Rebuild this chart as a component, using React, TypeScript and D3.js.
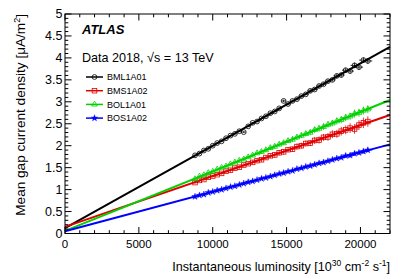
import React from 'react';
import * as d3 from 'd3';

// Instantaneous luminosity bins [10^30 cm^-2 s^-1]
const lumi = [
  8800, 9100, 9400, 9700, 10000, 10300, 10600, 10900, 11200, 11500,
  11800, 12100, 12400, 12700, 13000, 13300, 13600, 13900, 14200, 14500,
  14800, 15100, 15400, 15700, 16000, 16300, 16600, 16900, 17200, 17500,
  17800, 18100, 18400, 18700, 19000, 19300, 19600, 19900, 20200, 20500,
];
const lumiErr = [
  120, 120, 120, 120, 120, 120, 130, 130, 130, 130,
  130, 140, 140, 140, 140, 150, 150, 150, 160, 160,
  160, 170, 170, 180, 180, 190, 190, 200, 200, 210,
  220, 220, 230, 240, 250, 260, 270, 280, 290, 300,
];

// Mean gap current density [uA/m2]
const bml1a01 = [
  1.78, 1.82, 1.89, 1.93, 2.00, 2.06, 2.10, 2.17, 2.23, 2.27,
  2.33, 2.31, 2.44, 2.52, 2.55, 2.62, 2.67, 2.74, 2.78, 2.85,
  3.02, 2.95, 3.02, 3.06, 3.13, 3.17, 3.25, 3.28, 3.36, 3.40,
  3.47, 3.50, 3.59, 3.61, 3.72, 3.70, 3.83, 3.79, 3.95, 3.93,
];
const bms1a02 = [
  1.16, 1.21, 1.23, 1.28, 1.31, 1.34, 1.37, 1.42, 1.44, 1.49,
  1.51, 1.56, 1.59, 1.62, 1.66, 1.68, 1.73, 1.77, 1.79, 1.84,
  1.86, 1.91, 1.92, 1.98, 2.00, 2.05, 2.06, 2.12, 2.13, 2.19,
  2.20, 2.26, 2.27, 2.33, 2.36, 2.40, 2.38, 2.47, 2.52, 2.55,
];
const bol1a01 = [
  1.24, 1.30, 1.33, 1.38, 1.41, 1.46, 1.50, 1.53, 1.58, 1.62,
  1.66, 1.69, 1.74, 1.78, 1.83, 1.86, 1.90, 1.95, 1.98, 2.03,
  2.06, 2.11, 2.14, 2.19, 2.23, 2.27, 2.30, 2.36, 2.39, 2.43,
  2.48, 2.51, 2.56, 2.59, 2.64, 2.67, 2.73, 2.75, 2.80, 2.83,
];
const bos1a02 = [
  0.84, 0.87, 0.89, 0.93, 0.95, 0.98, 1.00, 1.03, 1.06, 1.08,
  1.11, 1.14, 1.17, 1.19, 1.22, 1.25, 1.27, 1.30, 1.33, 1.36,
  1.38, 1.41, 1.43, 1.47, 1.49, 1.52, 1.54, 1.57, 1.60, 1.62,
  1.65, 1.68, 1.71, 1.73, 1.77, 1.78, 1.82, 1.84, 1.87, 1.90,
];

const errBml = [
  0.02, 0.02, 0.02, 0.02, 0.02, 0.02, 0.02, 0.02, 0.02, 0.02,
  0.02, 0.02, 0.02, 0.02, 0.02, 0.03, 0.03, 0.03, 0.03, 0.03,
  0.03, 0.03, 0.03, 0.03, 0.03, 0.03, 0.04, 0.04, 0.04, 0.04,
  0.04, 0.04, 0.05, 0.05, 0.05, 0.05, 0.06, 0.06, 0.06, 0.06,
];
const errBms = [
  0.03, 0.03, 0.03, 0.03, 0.03, 0.03, 0.03, 0.04, 0.04, 0.04,
  0.04, 0.04, 0.04, 0.05, 0.05, 0.05, 0.05, 0.05, 0.06, 0.06,
  0.06, 0.06, 0.06, 0.07, 0.07, 0.07, 0.07, 0.08, 0.08, 0.08,
  0.09, 0.09, 0.09, 0.10, 0.10, 0.11, 0.11, 0.11, 0.12, 0.12,
];
const errBol = [
  0.03, 0.03, 0.03, 0.03, 0.03, 0.03, 0.03, 0.03, 0.03, 0.04,
  0.04, 0.04, 0.04, 0.04, 0.04, 0.04, 0.05, 0.05, 0.05, 0.05,
  0.05, 0.05, 0.06, 0.06, 0.06, 0.06, 0.06, 0.07, 0.07, 0.07,
  0.07, 0.07, 0.08, 0.08, 0.08, 0.08, 0.09, 0.09, 0.09, 0.09,
];
const errBos = [
  0.02, 0.02, 0.02, 0.02, 0.02, 0.02, 0.02, 0.02, 0.02, 0.02,
  0.02, 0.02, 0.02, 0.02, 0.02, 0.02, 0.03, 0.03, 0.03, 0.03,
  0.03, 0.03, 0.03, 0.03, 0.03, 0.03, 0.03, 0.04, 0.04, 0.04,
  0.04, 0.04, 0.04, 0.04, 0.05, 0.05, 0.05, 0.05, 0.05, 0.05,
];

// linear fits: value at L = 0 and at L = 22000
const fitRange = [0, 22000];
const fitBml = [0.12, 4.25];
const fitBms = [0.15, 2.70];
const fitBol = [0.06, 3.04];
const fitBos = [0.05, 2.03];

const xTicks = [0, 5000, 10000, 15000, 20000];
const yTicks = [0, 0.5, 1, 1.5, 2, 2.5, 3, 3.5, 4, 4.5, 5];

const series = [
  { name: 'BML1A01', color: '#000000', marker: 'circle', values: bml1a01, err: errBml, fit: fitBml },
  { name: 'BMS1A02', color: '#e00000', marker: 'square', values: bms1a02, err: errBms, fit: fitBms },
  { name: 'BOL1A01', color: '#00d200', marker: 'triangle', values: bol1a01, err: errBol, fit: fitBol },
  { name: 'BOS1A02', color: '#0000ff', marker: 'star', values: bos1a02, err: errBos, fit: fitBos },
];

const W = 411;
const H = 279;
const margin = { left: 65, right: 21, top: 14, bottom: 45.5 };
const font = 'Liberation Sans, Arial, Helvetica, sans-serif';

const Marker = ({ kind, x, y, color }) => {
  if (kind === 'circle') {
    return <circle cx={x} cy={y} r={2.4} fill="none" stroke={color} strokeWidth={0.8} />;
  }
  if (kind === 'square') {
    return <rect x={x - 2.3} y={y - 2.3} width={4.6} height={4.6} fill="none" stroke={color} strokeWidth={0.8} />;
  }
  if (kind === 'triangle') {
    return (
      <path
        d={d3.symbol().type(d3.symbolTriangle).size(14)()}
        transform={`translate(${x},${y})`}
        fill="none"
        stroke={color}
        strokeWidth={0.8}
      />
    );
  }
  return (
    <path
      d={d3.symbol().type(d3.symbolStar).size(13)()}
      transform={`translate(${x},${y})`}
      fill={color}
      stroke={color}
      strokeWidth={0.4}
    />
  );
};

export default function App() {
  const x = d3.scaleLinear().domain([0, 22000]).range([margin.left, W - margin.right]);
  const y = d3.scaleLinear().domain([0, 5]).range([H - margin.bottom, margin.top]);
  const x0 = x.range()[0];
  const x1 = x.range()[1];
  const y0 = y.range()[0];
  const y1 = y.range()[1];

  const xMinor = d3.range(0, 22001, 1000);
  const yMinor = d3.range(0, 5.001, 0.1);
  const line = d3.line<number[]>().x(d => x(d[0])).y(d => y(d[1]));

  const legendY = [77, 90.7, 104.4, 118.1];

  return (
    <svg
      width={W}
      height={H}
      style={{ position: 'absolute', left: 0, top: 0, background: '#fff' }}
      fontFamily={font}
    >
      <rect x={0} y={0} width={W} height={H} fill="#fff" />

      {/* data */}
      {series.map(s => (
        <g key={s.name}>
          {s.values.map((v, i) => (
            <g key={i}>
              <line x1={x(lumi[i])} x2={x(lumi[i])} y1={y(v - s.err[i])} y2={y(v + s.err[i])} stroke={s.color} strokeWidth={0.8} />
              <line x1={x(lumi[i] - lumiErr[i])} x2={x(lumi[i] + lumiErr[i])} y1={y(v)} y2={y(v)} stroke={s.color} strokeWidth={0.8} />
              <Marker kind={s.marker} x={x(lumi[i])} y={y(v)} color={s.color} />
            </g>
          ))}
          <path
            d={line(fitRange.map((l, i) => [l, s.fit[i]])) || ''}
            fill="none"
            stroke={s.color}
            strokeWidth={2}
          />
        </g>
      ))}

      {/* frame and ticks */}
      <rect x={x0} y={y1} width={x1 - x0} height={y0 - y1} fill="none" stroke="#000" strokeWidth={1} />
      {xMinor.map(t => {
        const len = t % 5000 === 0 ? 6.5 : 3.3;
        return (
          <g key={'x' + t}>
            <line x1={x(t)} x2={x(t)} y1={y0} y2={y0 - len} stroke="#000" strokeWidth={1} />
            <line x1={x(t)} x2={x(t)} y1={y1} y2={y1 + len} stroke="#000" strokeWidth={1} />
          </g>
        );
      })}
      {yMinor.map((t, i) => {
        const len = i % 5 === 0 ? 6.5 : 3.3;
        return (
          <g key={'y' + i}>
            <line x1={x0} x2={x0 + len} y1={y(t)} y2={y(t)} stroke="#000" strokeWidth={1} />
            <line x1={x1} x2={x1 - len} y1={y(t)} y2={y(t)} stroke="#000" strokeWidth={1} />
          </g>
        );
      })}

      {/* tick labels */}
      {xTicks.map(t => (
        <text key={'xl' + t} x={x(t)} y={y0 + 14} fontSize={11.5} textAnchor="middle" fill="#000">
          {t}
        </text>
      ))}
      {yTicks.map(t => (
        <text key={'yl' + t} x={x0 - 2.5} y={y(t) + 4} fontSize={12.5} textAnchor="end" fill="#000">
          {t}
        </text>
      ))}

      {/* axis titles */}
      <text x={x1} y={271} fontSize={12.6} textAnchor="end" fill="#000">
        Instantaneous luminosity [10
        <tspan fontSize={8.5} dy={-5}>30</tspan>
        <tspan dy={5}> cm</tspan>
        <tspan fontSize={8.5} dy={-5}>-2</tspan>
        <tspan dy={5}> s</tspan>
        <tspan fontSize={8.5} dy={-5}>-1</tspan>
        <tspan dy={5}>]</tspan>
      </text>
      <text transform={`translate(25,${y1}) rotate(-90)`} fontSize={13.6} textAnchor="end" fill="#000">
        Mean gap current density [μA/m
        <tspan fontSize={9} dy={-5}>2</tspan>
        <tspan dy={5}>]</tspan>
      </text>

      {/* labels */}
      <text x={82} y={33.5} fontSize={13} fontWeight="bold" fontStyle="italic" fill="#000">
        ATLAS
      </text>
      <text x={82} y={61.5} fontSize={12.6} fill="#000">
        Data 2018, √s = 13 TeV
      </text>

      {/* legend */}
      {series.map((s, i) => (
        <g key={'lg' + s.name}>
          <line x1={86} x2={103} y1={legendY[i]} y2={legendY[i]} stroke={s.color} strokeWidth={1.5} />
          <Marker kind={s.marker} x={94.5} y={legendY[i]} color={s.color} />
          <text x={107} y={legendY[i] + 3.2} fontSize={9} fill="#000">
            {s.name}
          </text>
        </g>
      ))}
    </svg>
  );
}
